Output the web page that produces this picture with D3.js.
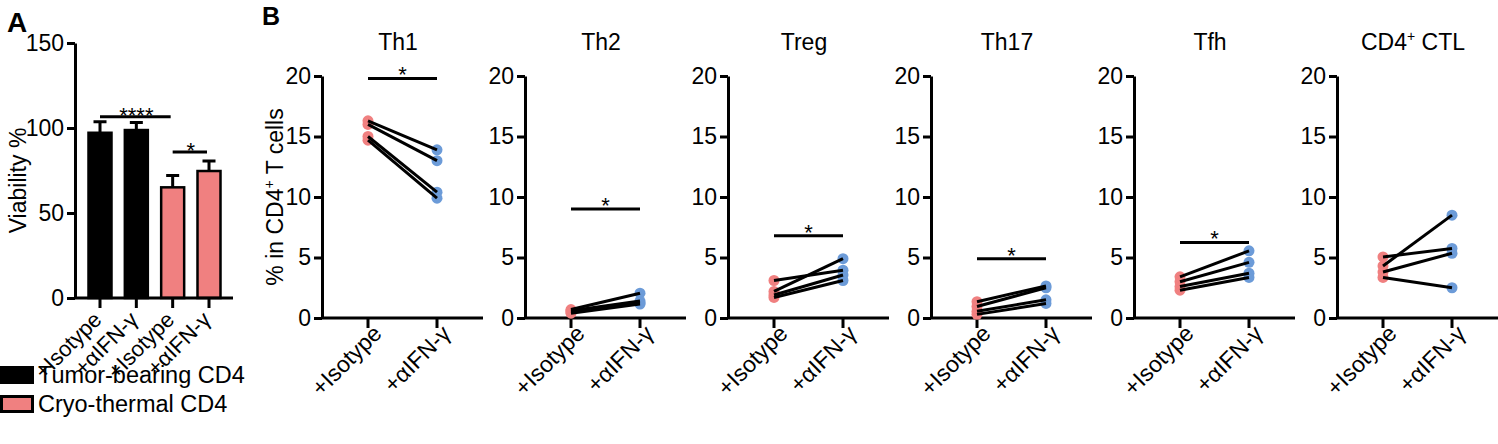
<!DOCTYPE html>
<html>
<head>
<meta charset="utf-8">
<script src="https://cdn.jsdelivr.net/npm/d3@7"></script>
<style>
  body { margin: 0; background: #fff; }
  svg { font-family: "Liberation Sans", Arial, sans-serif; }
</style>
</head>
<body>
<svg id="fig" width="1498" height="444"></svg>
<script>
// panel A data
var barLabels = ["+Isotype", "+αIFN-γ", "+Isotype", "+αIFN-γ"];
var barMeans = [97.2, 98.8, 65.1, 74.7];
var barErr = [6.5, 4.5, 6.9, 5.9];
var barGroup = [0, 0, 1, 1];
var legendLabels = ["Tumor-bearing CD4", "Cryo-thermal CD4"];
var yTicksA = [0, 50, 100, 150];
// significance bars in A: [from index, to index, level, label]
var sigA = [[0, 2, 106.6, "****"], [2, 3, 85.9, "*"]];

// panel B data
var subsets = ["Th1", "Th2", "Treg", "Th17", "Tfh", "CD4+ CTL"];
var conditions = ["+Isotype", "+αIFN-γ"];
var isotypeVals = [
    [16.3, 16.0, 15.0, 14.7],
    [0.7, 0.6, 0.5, 0.4],
    [3.1, 2.2, 1.9, 1.7],
    [1.35, 0.95, 0.55, 0.3],
    [3.4, 3.0, 2.6, 2.3],
    [4.3, 5.05, 3.8, 3.35]
];
var ifnVals = [
    [13.9, 13.0, 10.4, 9.9],
    [2.05, 1.4, 1.25, 1.15],
    [3.95, 4.9, 3.55, 3.1],
    [2.65, 2.5, 1.5, 1.2],
    [5.55, 4.6, 3.7, 3.35],
    [8.5, 5.75, 5.35, 2.5]
];
var sigB = [19.8, 9.0, 6.8, 4.9, 6.25, null];
var yTicksB = [0, 5, 10, 15, 20];

var pink = "#F08080", blue = "#6C9BD8";
var svg = d3.select("#fig");

// panel letters
svg.append("text").attr("x", 7).attr("y", 32).attr("font-size", 28)
    .attr("font-weight", "bold").text("A");
svg.append("text").attr("x", 262).attr("y", 25).attr("font-size", 25)
    .attr("font-weight", "bold").text("B");

//---------------- Panel A ----------------
var yA = d3.scaleLinear().domain([0, 150]).range([298, 43]);
var xA = d3.scalePoint().domain(d3.range(barLabels.length)).range([100, 209]);
var gA = svg.append("g");

gA.append("g")
    .attr("transform", "translate(75,0)")
    .call(d3.axisLeft(yA).tickValues(yTicksA).tickSize(8).tickSizeOuter(0).tickPadding(3))
    .call(g => g.selectAll("text").attr("font-size", 23).attr("fill", "#000"))
    .call(g => g.selectAll("path, line").attr("stroke", "#000").attr("stroke-width", 3));

gA.selectAll("rect.bar")
    .data(barMeans)
    .enter()
    .append("rect")
        .attr("class", "bar")
        .attr("x", (d, i) => xA(i) - 11.5)
        .attr("width", 23)
        .attr("y", d => yA(d))
        .attr("height", d => yA(0) - yA(d))
        .attr("fill", (d, i) => barGroup[i] == 0 ? "#000" : pink)
        .attr("stroke", "#000")
        .attr("stroke-width", 2.5);

// error bars (upper only)
gA.selectAll("path.err")
    .data(barMeans)
    .enter()
    .append("path")
        .attr("class", "err")
        .attr("d", (d, i) => {
            var x = xA(i), top = yA(d + barErr[i]);
            return `M${x},${yA(d)}V${top}M${x - 6.5},${top}H${x + 6.5}`;
        })
        .attr("fill", "none")
        .attr("stroke", "#000")
        .attr("stroke-width", 3);

// x axis A
gA.append("line").attr("x1", 74).attr("x2", 233).attr("y1", yA(0)).attr("y2", yA(0))
    .attr("stroke", "#000").attr("stroke-width", 3);
gA.selectAll("line.tickA")
    .data(barLabels)
    .enter()
    .append("line")
        .attr("class", "tickA")
        .attr("x1", (d, i) => xA(i)).attr("x2", (d, i) => xA(i))
        .attr("y1", yA(0)).attr("y2", yA(0) + 10)
        .attr("stroke", "#000").attr("stroke-width", 3);
gA.selectAll("text.xlabA")
    .data(barLabels)
    .enter()
    .append("text")
        .attr("class", "xlabA")
        .attr("text-anchor", "end")
        .attr("font-size", 22)
        .attr("transform", (d, i) => `translate(${xA(i) + 3},${yA(0) + 23}) rotate(-45)`)
        .text(d => d);

gA.append("text")
    .attr("transform", `translate(26,${(yA(0) + yA(150)) / 2 + 10}) rotate(-90)`)
    .attr("text-anchor", "middle")
    .attr("font-size", 23)
    .text("Viability %");

// significance A
sigA.forEach(s => {
    var y = yA(s[2]);
    gA.append("line").attr("x1", xA(s[0])).attr("x2", xA(s[1]) - 2)
        .attr("y1", y).attr("y2", y).attr("stroke", "#000").attr("stroke-width", 3);
    gA.append("text").attr("x", (xA(s[0]) + xA(s[1])) / 2).attr("y", y + 6)
        .attr("text-anchor", "middle").attr("font-size", 22).text(s[3]);
});

// legend
var leg = svg.append("g").selectAll("g")
    .data(legendLabels)
    .enter()
    .append("g")
        .attr("transform", (d, i) => `translate(0,${366 + i * 29})`);
leg.append("rect")
    .attr("x", 1.5).attr("y", 1.5).attr("width", 31).attr("height", 15)
    .attr("fill", (d, i) => i == 0 ? "#000" : pink)
    .attr("stroke", "#000").attr("stroke-width", 3);
leg.append("text")
    .attr("x", 38).attr("y", 17)
    .attr("font-size", 23.5)
    .text(d => d);

//---------------- Panel B ----------------
var panelX = d3.scaleLinear().domain([0, subsets.length - 1]).range([322, 1337]);
var yB = d3.scaleLinear().domain([0, 20]).range([318, 76]);
var xB = d3.scalePoint().domain(conditions).range([46, 115]);

// y axis title for B
var ytitle = svg.append("text")
    .attr("transform", `translate(283,${(yB(0) + yB(20)) / 2}) rotate(-90)`)
    .attr("text-anchor", "middle")
    .attr("font-size", 23);
ytitle.append("tspan").text("% in CD4");
ytitle.append("tspan").attr("font-size", 14).attr("dy", -9).text("+");
ytitle.append("tspan").attr("dy", 9).text(" T cells");

subsets.forEach((name, k) => {
    var g = svg.append("g").attr("transform", `translate(${panelX(k)},0)`);

    g.append("g")
        .call(d3.axisLeft(yB).tickValues(yTicksB).tickSize(8).tickSizeOuter(0).tickPadding(3))
        .call(a => a.selectAll("text").attr("font-size", 23).attr("fill", "#000"))
        .call(a => a.selectAll("path, line").attr("stroke", "#000").attr("stroke-width", 3));

    g.append("line").attr("x1", -1).attr("x2", 161).attr("y1", yB(0)).attr("y2", yB(0))
        .attr("stroke", "#000").attr("stroke-width", 3);

    g.selectAll("line.tickB")
        .data(conditions)
        .enter()
        .append("line")
            .attr("class", "tickB")
            .attr("x1", d => xB(d)).attr("x2", d => xB(d))
            .attr("y1", yB(0)).attr("y2", yB(0) + 10)
            .attr("stroke", "#000").attr("stroke-width", 3);

    g.selectAll("text.xlabB")
        .data(conditions)
        .enter()
        .append("text")
            .attr("class", "xlabB")
            .attr("text-anchor", "end")
            .attr("font-size", 23)
            .attr("transform", d => `translate(${xB(d) + 15},${yB(0) + 17}) rotate(-45)`)
            .text(d => d);

    // title
    var t = g.append("text").attr("x", 76).attr("y", 50)
        .attr("text-anchor", "middle").attr("font-size", 23);
    if (name.indexOf("+") > 0) {
        var parts = name.split("+");
        t.append("tspan").text(parts[0]);
        t.append("tspan").attr("font-size", 14).attr("dy", -9).text("+");
        t.append("tspan").attr("dy", 9).text(parts[1]);
    } else {
        t.text(name);
    }

    var pairs = isotypeVals[k].map((v, i) => [v, ifnVals[k][i]]);

    // dots
    g.selectAll("circle.iso")
        .data(isotypeVals[k])
        .enter()
        .append("circle")
            .attr("cx", xB(conditions[0]))
            .attr("cy", d => yB(d))
            .attr("r", 5.5)
            .attr("fill", pink);
    g.selectAll("circle.ifn")
        .data(ifnVals[k])
        .enter()
        .append("circle")
            .attr("cx", xB(conditions[1]))
            .attr("cy", d => yB(d))
            .attr("r", 5.5)
            .attr("fill", blue);

    // paired lines
    g.selectAll("line.pair")
        .data(pairs)
        .enter()
        .append("line")
            .attr("class", "pair")
            .attr("x1", xB(conditions[0])).attr("y1", d => yB(d[0]))
            .attr("x2", xB(conditions[1])).attr("y2", d => yB(d[1]))
            .attr("stroke", "#000").attr("stroke-width", 3);

    if (sigB[k] != null) {
        var y = yB(sigB[k]);
        g.append("line").attr("x1", xB(conditions[0])).attr("x2", xB(conditions[1]))
            .attr("y1", y).attr("y2", y).attr("stroke", "#000").attr("stroke-width", 3);
        g.append("text").attr("x", (xB(conditions[0]) + xB(conditions[1])) / 2)
            .attr("y", y + 4).attr("text-anchor", "middle").attr("font-size", 22).text("*");
    }
});
</script>
</body>
</html>
